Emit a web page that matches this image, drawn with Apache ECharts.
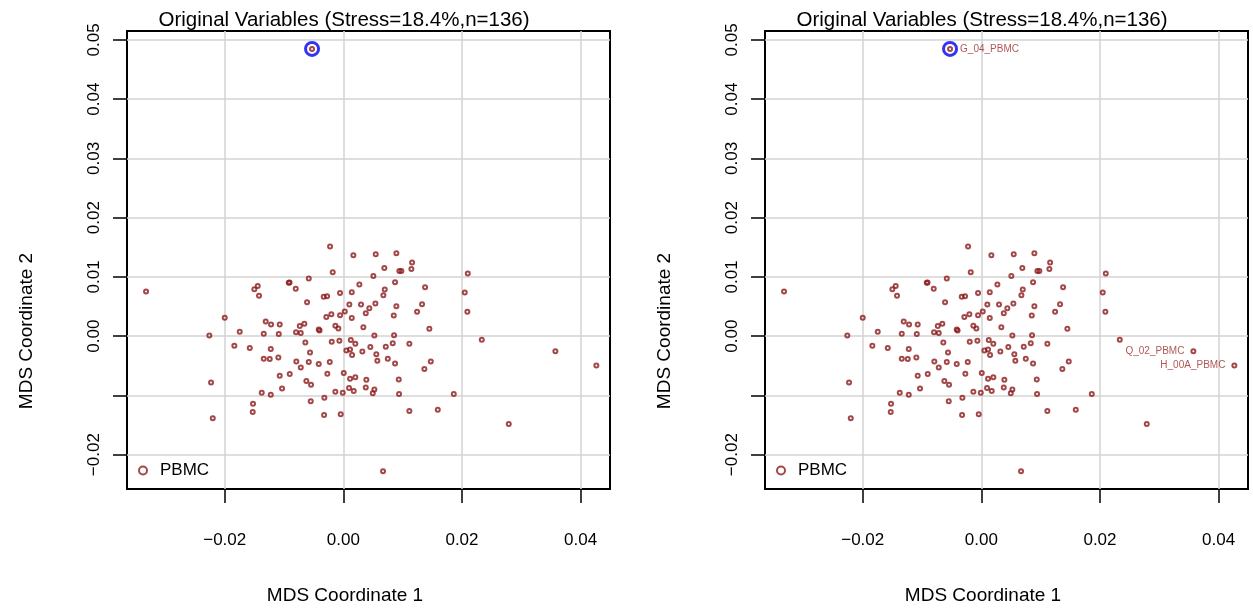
<!DOCTYPE html>
<html><head><meta charset="utf-8">
<script src="https://cdn.jsdelivr.net/npm/echarts@6/dist/echarts.min.js"></script>
<style>html,body{margin:0;padding:0;background:#fff}#c{width:1253px;height:611px}</style>
</head><body><div id="c"></div>
<script>
// MDS coordinates (136 samples, PBMC)
const mds1 = [-0.03327,-0.02000,-0.02260,-0.01747,-0.01838,-0.02231,-0.02202,-0.00224,0.00169,-0.00179,
-0.00583,-0.00921,-0.00907,-0.01444,-0.01501,-0.00803,-0.01422,-0.00056,0.00142,-0.00331,
-0.00275,-0.00612,0.00101,0.00024,-0.00202,-0.00287,-0.00056,0.00142,-0.01309,-0.01219,
-0.01073,-0.00658,-0.00735,-0.00135,-0.00084,-0.00415,-0.00401,-0.01342,-0.01089,-0.00798,
-0.00718,-0.00641,-0.00196,-0.00067,0.00125,0.00202,0.00051,0.00113,0.00147,-0.01578,
-0.01224,-0.01342,-0.01241,-0.01096,-0.00562,-0.00793,-0.00583,-0.00415,-0.00229,-0.00718,
-0.01073,-0.00904,-0.00270,0.00007,0.00113,0.00202,-0.00624,-0.00545,-0.01034,0.00096,
0.00175,-0.00135,-0.00010,-0.01376,-0.01224,-0.00320,-0.01523,-0.00550,-0.01528,-0.00325,
-0.00044,0.00546,0.00894,0.01159,0.00691,0.00944,0.00978,0.01147,0.00506,0.02098,
0.00270,0.00872,0.01378,0.00698,0.00675,0.02047,0.00298,0.00540,0.00438,0.00378,
0.00894,0.01327,0.01243,0.00850,0.02091,0.00337,0.01450,0.00523,0.00855,0.00833,
0.01113,0.00455,0.00715,0.00320,0.00556,0.00573,0.00749,0.00872,0.01474,0.01366,
0.00388,0.00934,0.00378,0.00523,0.00496,0.00939,0.01862,0.01113,0.01592,0.02334,
0.03575,0.04266,0.02789,0.00669,-0.00528];
const mds2 = [0.00754,0.00309,0.00012,0.00073,-0.00164,-0.00781,-0.01388,0.01513,0.01366,0.01079,
0.00973,0.00899,0.00906,0.00848,0.00793,0.00798,0.00680,0.00730,0.00742,0.00663,
0.00675,0.00573,0.00535,0.00417,0.00371,0.00325,0.00354,0.00304,0.00248,0.00197,
0.00197,0.00207,0.00169,0.00174,0.00130,0.00113,0.00096,0.00039,0.00034,0.00067,
0.00051,-0.00106,-0.00096,-0.00079,-0.00067,-0.00130,-0.00241,-0.00224,-0.00320,-0.00202,
-0.00219,-0.00383,-0.00388,-0.00359,-0.00275,-0.00427,-0.00438,-0.00472,-0.00438,-0.00528,
-0.00669,-0.00641,-0.00636,-0.00624,-0.00720,-0.00696,-0.00759,-0.00821,-0.00882,-0.00877,
-0.00927,-0.00939,-0.00956,-0.00956,-0.00990,-0.01040,-0.01142,-0.01101,-0.01282,-0.01332,
-0.01320,0.01383,0.01400,0.01243,0.01152,0.01101,0.01101,0.01135,0.01017,0.01057,
0.00872,0.00911,0.00826,0.00788,0.00691,0.00737,0.00535,0.00551,0.00472,0.00388,
0.00506,0.00540,0.00410,0.00349,0.00410,0.00152,0.00123,0.00012,0.00017,-0.00118,
-0.00130,-0.00185,-0.00180,-0.00258,-0.00304,-0.00417,-0.00383,-0.00460,-0.00427,-0.00556,
-0.00737,-0.00730,-0.00865,-0.00899,-0.00966,-0.00978,-0.00978,-0.01265,-0.01243,-0.00062,
-0.00253,-0.00494,-0.01484,-0.02282,0.04848];
// labelled samples in the right panel (index into the arrays above)
const labelNames = ['G_04_PBMC', 'Q_02_PBMC', 'H_00A_PBMC'];
const labelIndex = [134, 130, 131];
const highlightIndex = [134];
const xTicks = [-0.02, 0.00, 0.02, 0.04];
const yTicks = [-0.02, -0.01, 0.00, 0.01, 0.02, 0.03, 0.04, 0.05];
const yTickLabels = [-0.02, 0.00, 0.01, 0.02, 0.03, 0.04, 0.05];
const titleText = 'Original Variables (Stress=18.4%,n=136)';
const xTitle = 'MDS Coordinate 1';
const yTitle = 'MDS Coordinate 2';
const groupName = 'PBMC';

const FONT = '"Liberation Sans", Arial, Helvetica, sans-serif';
const RED = '#8B1A1A';
const fmt = v => (v < 0 ? '\u2212' : '') + Math.abs(v).toFixed(2);

const chart = echarts.init(document.getElementById('c'), null, {renderer: 'canvas'});
const panels = [{left: 127}, {left: 765}];
const W = 483, TOP = 31, H = 458;
const XMIN = -0.03648, XMAX = 0.04496, YMIN = -0.0258, YMAX = 0.0515;

const pts = mds1.map((x, i) => [x, mds2[i]]);

const option = {
  animation: false,
  backgroundColor: '#fff',
  textStyle: {fontFamily: FONT},
  grid: panels.map(p => ({left: p.left, top: TOP, width: W, height: H, show: true,
    borderColor: '#000', borderWidth: 2, backgroundColor: '#fff', containLabel: false})),
  xAxis: panels.map((p, k) => ({
    type: 'value', gridIndex: k, min: XMIN, max: XMAX, position: 'bottom',
    axisLine: {show: false, onZero: false},
    axisTick: {show: true, length: 14, lineStyle: {color: '#000', width: 1.5}, customValues: xTicks},
    axisLabel: {customValues: xTicks, formatter: fmt, fontSize: 17, color: '#000', margin: 43, fontFamily: FONT},
    splitLine: {show: true, lineStyle: {color: '#d3d3d3', width: 1.5}}
  })),
  yAxis: panels.map((p, k) => ({
    type: 'value', gridIndex: k, min: YMIN, max: YMAX, position: 'left',
    axisLine: {show: false, onZero: false},
    axisTick: {show: true, length: 14, lineStyle: {color: '#000', width: 1.5}, customValues: yTicks},
    axisLabel: {customValues: yTickLabels, formatter: fmt, fontSize: 17, color: '#000', margin: 24, rotate: 90, fontFamily: FONT},
    splitLine: {show: true, lineStyle: {color: '#d3d3d3', width: 1.5}}
  })),
  legend: panels.map(p => ({
    data: [groupName], left: p.left + 6, top: 457, itemWidth: 24, itemHeight: 8, icon: 'circle',
    itemStyle: {color: 'rgba(0,0,0,0)', borderColor: RED, borderWidth: 2},
    textStyle: {fontSize: 17, color: '#000', fontFamily: FONT}, selectedMode: false
  })),
  series: [
    {name: groupName, type: 'scatter', xAxisIndex: 0, yAxisIndex: 0, symbol: 'circle', symbolSize: 4,
      itemStyle: {color: 'rgba(0,0,0,0)', borderColor: RED, borderWidth: 2}, data: pts, z: 3},
    {name: 'highlight', type: 'scatter', xAxisIndex: 0, yAxisIndex: 0, symbol: 'circle', symbolSize: 13,
      itemStyle: {color: 'rgba(0,0,0,0)', borderColor: '#0000EE', borderWidth: 3},
      data: highlightIndex.map(i => pts[i]), z: 4},
    {name: groupName, type: 'scatter', xAxisIndex: 1, yAxisIndex: 1, symbol: 'circle', symbolSize: 4,
      itemStyle: {color: 'rgba(0,0,0,0)', borderColor: RED, borderWidth: 2},
      data: pts.map((p, i) => {
        const j = labelIndex.indexOf(i);
        if (j < 0) return {value: p};
        return {value: p, name: labelNames[j], label: {show: true, formatter: labelNames[j],
          position: j === 0 ? 'right' : 'left', distance: j === 0 ? 7 : 6,
          fontSize: 10, color: '#9E2A2A', fontFamily: FONT}};
      }), z: 3},
    {name: 'highlight', type: 'scatter', xAxisIndex: 1, yAxisIndex: 1, symbol: 'circle', symbolSize: 13,
      itemStyle: {color: 'rgba(0,0,0,0)', borderColor: '#0000EE', borderWidth: 3},
      data: highlightIndex.map(i => pts[i]), z: 4}
  ],
  graphic: [].concat(...panels.map((p, k) => {
    const cx = k === 0 ? 344 : 982;
    const yx = k === 0 ? 27 : 665;
    return [
      {type: 'text', x: cx, y: 20, style: {text: titleText, font: '20.5px ' + FONT, fill: '#000', align: 'center', verticalAlign: 'middle', textAlign: 'center', textVerticalAlign: 'middle'}},
      {type: 'text', x: cx + 1, y: 596, style: {text: xTitle, font: '19px ' + FONT, fill: '#000', align: 'center', verticalAlign: 'middle', textAlign: 'center', textVerticalAlign: 'middle'}},
      {type: 'text', x: yx, y: 331, rotation: Math.PI / 2, style: {text: yTitle, font: '19px ' + FONT, fill: '#000', align: 'center', verticalAlign: 'middle', textAlign: 'center', textVerticalAlign: 'middle'}}
    ];
  }))
};
chart.setOption(option);
</script></body></html>
